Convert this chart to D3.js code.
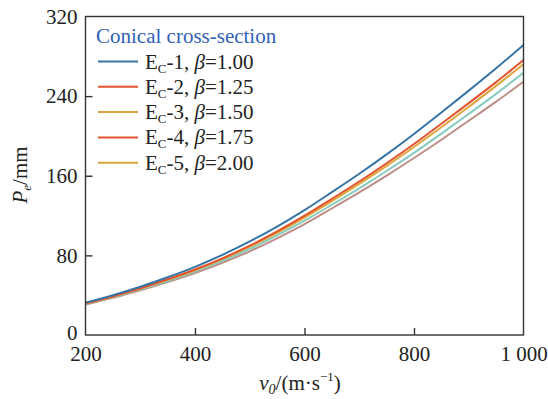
<!DOCTYPE html>
<html>
<head>
<meta charset="utf-8">
<script src="https://cdn.jsdelivr.net/npm/d3@7"></script>
<style>
  body { margin: 0; background: #fff; }
  svg text { font-family: "Liberation Serif", "Times New Roman", serif; fill: #222; }
</style>
</head>
<body>
<svg id="chart" width="548" height="399"></svg>
<script>
// data
var speeds = [200, 250, 300, 350, 400, 450, 500, 550, 600, 650, 700, 750, 800, 850, 900, 950, 1000];
var ec1 = [32.5, 40.0, 48.5, 58.0, 68.5, 80.5, 94.0, 109.0, 125.5, 143.5, 162.0, 181.5, 202.0, 223.5, 245.5, 268.0, 291.4];
var ec2 = [31.9, 39.0, 47.0, 56.0, 65.8, 77.0, 89.8, 104.1, 119.9, 136.8, 154.2, 172.6, 191.9, 212.3, 233.0, 254.1, 276.3];
var ec3 = [31.5, 38.6, 46.6, 55.4, 65.1, 76.2, 88.8, 102.7, 118.0, 134.6, 151.8, 169.9, 188.9, 208.7, 229.3, 250.3, 272.2];
var ec4 = [31.2, 38.1, 45.8, 54.3, 63.7, 74.5, 86.5, 100.0, 114.8, 130.9, 147.4, 164.8, 183.0, 202.3, 222.2, 242.3, 263.4];
var ec5 = [30.6, 37.3, 44.9, 53.2, 62.3, 72.6, 84.1, 97.1, 111.4, 127.1, 143.2, 160.1, 177.8, 196.2, 215.3, 234.5, 254.4];
var seriesNames = ["1", "2", "3", "4", "5"];
var betas = ["1.00", "1.25", "1.50", "1.75", "2.00"];
var lineColors = ["#3674a6", "#e4522e", "#dca63c", "#86cbbf", "#be8e86"];
// legend swatches as in the original figure
var legendColors = ["#3674a6", "#e4522e", "#dca63c", "#e4522e", "#dca63c"];
var xTicks = [200, 400, 600, 800, 1000];
var yTicks = [0, 80, 160, 240, 320];

var svg = d3.select("#chart");
var pLeft = 85.5, pRight = 523.5, pTop = 16.5, pBottom = 335;
var fs = 21;

var x = d3.scaleLinear().domain([200, 1000]).range([pLeft, pRight]);
var y = d3.scaleLinear().domain([0, 320]).range([pBottom, pTop]);

var all = [ec1, ec2, ec3, ec4, ec5];

// lines (last series first so blue ends up on top)
var line = d3.line()
    .x(function(d, i) { return x(speeds[i]); })
    .y(function(d) { return y(d); })
    .curve(d3.curveMonotoneX);

svg.append("g").selectAll("path")
    .data(all.map(function(d, i) { return {v: d, i: i}; }).reverse())
    .enter().append("path")
    .attr("d", function(d) { return line(d.v); })
    .attr("fill", "none")
    .attr("stroke", function(d) { return lineColors[d.i]; })
    .attr("stroke-width", 2);

// frame
svg.append("rect")
    .attr("x", pLeft).attr("y", pTop)
    .attr("width", pRight - pLeft).attr("height", pBottom - pTop)
    .attr("fill", "none").attr("stroke", "#333").attr("stroke-width", 1.4);

// axes
var xAxis = d3.axisBottom(x).tickValues(xTicks).tickSizeInner(-7).tickSizeOuter(0)
    .tickFormat(function(d) { return d === 1000 ? "1 000" : d; });
var gx = svg.append("g").attr("transform", "translate(0," + pBottom + ")").call(xAxis);
gx.select(".domain").remove();
gx.selectAll("line").attr("stroke", "#333").attr("stroke-width", 1.4)
    .filter(function(d) { return d === 200 || d === 1000; }).remove();
gx.selectAll("text").attr("font-size", fs).attr("fill", "#222")
    .style("font-family", '"Liberation Serif", serif').attr("y", 11).attr("dy", "0.71em");

var yAxis = d3.axisLeft(y).tickValues(yTicks).tickSizeInner(-7).tickSizeOuter(0).tickPadding(8);
var gy = svg.append("g").attr("transform", "translate(" + pLeft + ",0)").call(yAxis);
gy.select(".domain").remove();
gy.selectAll("line").attr("stroke", "#333").attr("stroke-width", 1.4)
    .filter(function(d) { return d === 0 || d === 320; }).remove();
gy.selectAll("text").attr("font-size", fs).attr("fill", "#222")
    .style("font-family", '"Liberation Serif", serif')
    .attr("dy", function(d) { return d === 0 ? "0.22em" : "0.32em"; });

// axis titles
var xt = svg.append("text").attr("x", 300).attr("y", 390).attr("text-anchor", "middle").attr("font-size", fs);
xt.append("tspan").attr("font-style", "italic").text("v");
xt.append("tspan").attr("font-style", "italic").attr("font-size", 14).attr("dy", 4).text("0");
xt.append("tspan").attr("dy", -4).text("/(m\u00B7s");
xt.append("tspan").attr("font-size", 13).attr("dy", -9).text("\u22121");
xt.append("tspan").attr("dy", 9).text(")");

var yt = svg.append("text").attr("transform", "translate(27,175) rotate(-90)")
    .attr("text-anchor", "middle").attr("font-size", fs);
yt.append("tspan").attr("font-style", "italic").text("P");
yt.append("tspan").attr("font-style", "italic").attr("font-size", 13).attr("dy", 4).text("e");
yt.append("tspan").attr("dy", -4).text("/mm");

// legend
var lg = svg.append("g");
lg.append("text").attr("x", 96).attr("y", 43).attr("font-size", fs)
    .style("fill", "#2f62b8").text("Conical cross-section");

seriesNames.forEach(function(n, i) {
    var ly = 61.5 + i * 25.3;
    lg.append("line").attr("x1", 98).attr("x2", 138).attr("y1", ly).attr("y2", ly)
        .attr("stroke", legendColors[i]).attr("stroke-width", 2);
    var t = lg.append("text").attr("x", 145).attr("y", ly + 7).attr("font-size", fs);
    t.append("tspan").text("E");
    t.append("tspan").attr("font-size", 13).attr("dy", 4).text("C");
    t.append("tspan").attr("dy", -4).text("-" + n + ", ");
    t.append("tspan").attr("font-style", "italic").text("\u03B2");
    t.append("tspan").text("=" + betas[i]);
});
</script>
</body>
</html>
